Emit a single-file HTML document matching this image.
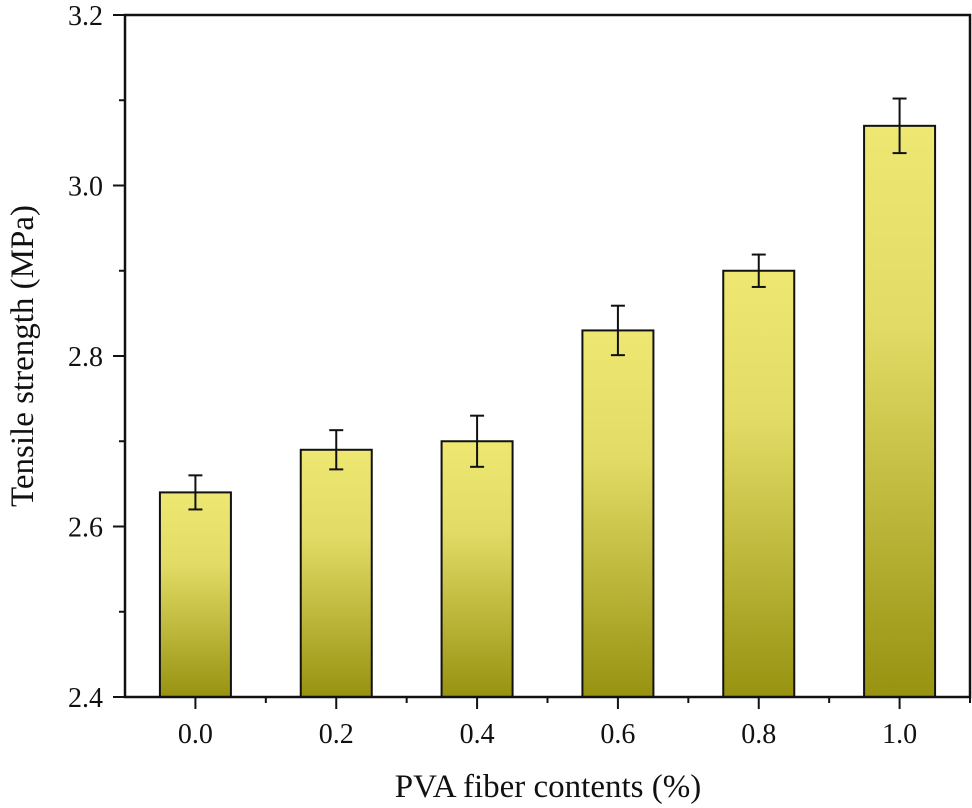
<!DOCTYPE html>
<html><head><meta charset="utf-8"><style>
html,body{margin:0;padding:0;background:#fff;}
svg{display:block;font-family:"Liberation Serif",serif;}
</style></head><body>
<svg id="chart" width="972" height="808" viewBox="0 0 972 808">
<defs>
<linearGradient id="g" x1="0" y1="0" x2="0" y2="1">
<stop offset="0" stop-color="#eee872"/>
<stop offset="0.35" stop-color="#e2dc66"/>
<stop offset="1" stop-color="#989211"/>
</linearGradient>
</defs>
<g id="plot"></g>
</svg>
<script>
const categories=["0.0","0.2","0.4","0.6","0.8","1.0"];
const values=[2.64,2.69,2.70,2.83,2.90,3.07];
const errors=[0.02,0.023,0.03,0.029,0.019,0.032];
const yTicks=[2.4,2.6,2.8,3.0,3.2];
const yMinor=[2.5,2.7,2.9,3.1];
const L=125,R=970,T=15,B=697,yMin=2.4,yMax=3.2;
const NS="http://www.w3.org/2000/svg";
const step=(R-L)/categories.length;
const xs=i=>L+step*(i+0.5);
const ys=v=>B-(v-yMin)/(yMax-yMin)*(B-T);
const g=document.getElementById('plot');
function mk(t,a,p){const e=document.createElementNS(NS,t);for(const k in a)e.setAttribute(k,a[k]);(p||g).appendChild(e);return e;}
const bw=71;
values.forEach((v,i)=>{
 const b=mk('rect',{x:xs(i)-bw/2,y:ys(v),width:bw,height:B-ys(v),fill:'url(#g)',stroke:'#111','stroke-width':2});
 
 
 const e=errors[i];
 const eg=mk('g',{stroke:'#111','stroke-width':2});
 
 
 mk('line',{x1:xs(i),x2:xs(i),y1:ys(v+e),y2:ys(v-e)},eg);
 mk('line',{x1:xs(i)-7,x2:xs(i)+7,y1:ys(v+e),y2:ys(v+e)},eg);
 mk('line',{x1:xs(i)-7,x2:xs(i)+7,y1:ys(v-e),y2:ys(v-e)},eg);
});
const frame=mk('rect',{x:L,y:T,width:R-L,height:B-T,fill:'none',stroke:'#111','stroke-width':2.5});


yTicks.forEach(t=>{
 mk('line',{x1:L-12,x2:L,y1:ys(t),y2:ys(t),stroke:'#111','stroke-width':2});
 const tx=mk('text',{x:L-22,y:ys(t)+10,'text-anchor':'end','font-size':28,fill:'#111'});
 tx.textContent=t.toFixed(1);
 
 
});
yMinor.forEach(t=>mk('line',{x1:L-6,x2:L,y1:ys(t),y2:ys(t),stroke:'#111','stroke-width':2}));
categories.forEach((c,i)=>{
 mk('line',{x1:xs(i),x2:xs(i),y1:B,y2:B+12,stroke:'#111','stroke-width':2});
 mk('line',{x1:xs(i)+step/2,x2:xs(i)+step/2,y1:B,y2:B+6,stroke:'#111','stroke-width':2});
 const tx=mk('text',{x:xs(i),y:B+46,'text-anchor':'middle','font-size':28,fill:'#111'});
 tx.textContent=c;
 
 
});
const xt=mk('text',{x:548,y:797,'text-anchor':'middle','font-size':33,fill:'#111'});
xt.textContent='PVA fiber contents (%)';


const yt=mk('text',{x:0,y:0,'text-anchor':'middle','font-size':33,fill:'#111',transform:'translate(33,356) rotate(-90)'});
yt.textContent='Tensile strength (MPa)';


</script>
</body></html>
